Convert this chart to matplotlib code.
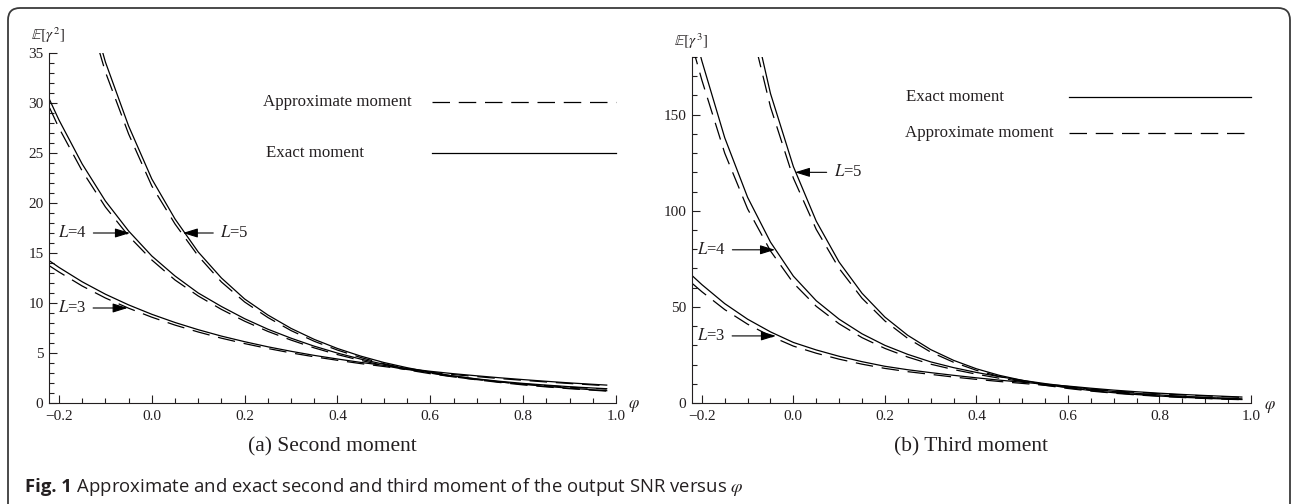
import matplotlib
matplotlib.use('Agg')
import matplotlib.pyplot as plt
from matplotlib.patches import FancyBboxPatch
from matplotlib.ticker import MultipleLocator, FuncFormatter

plt.rcParams['font.family'] = ['Liberation Serif', 'DejaVu Serif']
plt.rcParams['mathtext.fontset'] = 'stix'

# correlation coefficient grid
phi = [-0.22, -0.2, -0.15, -0.1, -0.05, 0.0, 0.05, 0.1, 0.15, 0.2, 0.25, 0.3, 0.35,
       0.4, 0.45, 0.5, 0.55, 0.6, 0.65, 0.7, 0.75, 0.8, 0.85, 0.9, 0.95, 0.98]

# (a) second moment
m2_exact_L5 = [58, 53, 42.3, 34.1, 27.7, 22.4, 18.4, 15.1, 12.5, 10.4, 8.8, 7.46, 6.36,
               5.45, 4.69, 4.05, 3.53, 3.08, 2.70, 2.39, 2.11, 1.87, 1.66, 1.48, 1.32, 1.23]
m2_approx_L5 = [56.3, 51.4, 41.0, 33.1, 26.9, 21.7, 17.9, 14.7, 12.1, 10.1, 8.55, 7.24, 6.17,
                5.29, 4.55, 3.93, 3.42, 2.99, 2.62, 2.32, 2.05, 1.81, 1.61, 1.43, 1.28, 1.19]
m2_exact_L4 = [30.3, 28.3, 23.9, 20.2, 17.2, 14.7, 12.7, 11.0, 9.65, 8.43, 7.38, 6.48, 5.68,
               4.99, 4.39, 3.87, 3.41, 3.02, 2.69, 2.41, 2.17, 1.96, 1.79, 1.63, 1.50, 1.43]
m2_approx_L4 = [29.5, 27.5, 23.2, 19.6, 16.7, 14.3, 12.3, 10.7, 9.36, 8.18, 7.16, 6.29, 5.51,
                4.84, 4.26, 3.75, 3.31, 2.93, 2.61, 2.34, 2.10, 1.90, 1.74, 1.58, 1.46, 1.39]
m2_exact_L3 = [14.2, 13.56, 12.12, 10.88, 9.81, 8.87, 8.05, 7.33, 6.69, 6.13, 5.62, 5.17, 4.76,
               4.40, 4.06, 3.76, 3.45, 3.17, 2.93, 2.72, 2.52, 2.34, 2.17, 2.01, 1.87, 1.79]
m2_approx_L3 = [13.7, 13.1, 11.7, 10.5, 9.48, 8.58, 7.79, 7.10, 6.48, 5.94, 5.45, 5.01, 4.62,
                4.27, 3.94, 3.65, 3.35, 3.08, 2.84, 2.64, 2.44, 2.27, 2.10, 1.95, 1.81, 1.73]

# (b) third moment
m3_exact_L5 = [430, 380, 284, 213, 161, 123, 94.6, 73.3, 57.1, 44.7, 35.2, 27.8, 22.2,
               17.8, 14.4, 11.8, 9.6, 7.9, 6.5, 5.35, 4.4, 3.62, 2.98, 2.45, 2.02, 1.8]
m3_approx_L5 = [411, 363, 271, 203, 154, 117, 90.3, 70.0, 54.5, 42.7, 33.6, 26.5, 21.2,
                17.0, 13.8, 11.3, 9.2, 7.55, 6.2, 5.1, 4.2, 3.46, 2.85, 2.34, 1.93, 1.72]
m3_exact_L4 = [196, 178, 138, 107, 83.7, 66.0, 53.2, 43.6, 36.0, 30.0, 25.3, 21.4, 18.4,
               15.9, 13.7, 11.8, 10.1, 8.6, 7.2, 6.0, 5.0, 4.2, 3.5, 2.92, 2.44, 2.18]
m3_approx_L4 = [185, 168, 130, 101, 79.1, 62.4, 50.3, 41.2, 34.0, 28.4, 23.9, 20.2, 17.4,
                15.0, 12.9, 11.2, 9.55, 8.13, 6.8, 5.67, 4.73, 3.97, 3.31, 2.76, 2.31, 2.06]
m3_exact_L3 = [66.0, 61.6, 51.7, 43.6, 37.0, 31.5, 27.6, 24.3, 21.5, 19.1, 17.3, 15.8, 14.4,
               13.1, 11.9, 10.8, 9.75, 8.8, 7.7, 6.7, 5.85, 5.1, 4.45, 3.9, 3.4, 3.1]
m3_approx_L3 = [62.0, 57.9, 48.6, 41.0, 34.8, 29.6, 25.9, 22.8, 20.2, 18.0, 16.3, 14.9, 13.5,
                12.3, 11.2, 10.2, 9.2, 8.3, 7.25, 6.3, 5.5, 4.8, 4.2, 3.67, 3.2, 2.92]

ink = '#231f20'
W, H = 1294, 504

fig = plt.figure(figsize=(W / 100, H / 100), dpi=100)
fig.patches.append(FancyBboxPatch((0.08, -0.5), 12.82, 5.46, boxstyle='round,pad=0,rounding_size=0.12',
                                  transform=fig.dpi_scale_trans, fill=False, ec='#3a3a3a', lw=1.3))

ax1 = fig.add_axes([49 / W, 101 / H, 567 / W, 350 / H])
ax2 = fig.add_axes([692 / W, 101 / H, 559 / W, 346 / H])

dash = (14, 7)


def fmt_x(v, pos):
    s = '%.1f' % round(v, 2)
    return s.replace('-', '\u2212')


def style(ax, ymax, ymajor, yminor):
    ax.set_xlim(-0.2215, 1.0)
    ax.set_ylim(0, ymax)
    for s in ['top', 'right']:
        ax.spines[s].set_visible(False)
    for s in ['left', 'bottom']:
        ax.spines[s].set_linewidth(0.8)
        ax.spines[s].set_color(ink)
    ax.xaxis.set_major_locator(MultipleLocator(0.2))
    ax.xaxis.set_minor_locator(MultipleLocator(0.05))
    ax.yaxis.set_major_locator(MultipleLocator(ymajor))
    ax.yaxis.set_minor_locator(MultipleLocator(yminor))
    ax.xaxis.set_major_formatter(FuncFormatter(fmt_x))
    ax.yaxis.set_major_formatter(FuncFormatter(lambda v, p: '%d' % v))
    ax.tick_params(which='both', direction='in', width=0.8, color=ink, labelcolor=ink, labelsize=11)
    ax.tick_params(which='major', length=6)
    ax.tick_params(which='minor', length=3.5)
    ax.tick_params(axis='x', pad=5)
    ax.tick_params(axis='y', pad=4)
    ax.set_facecolor('none')


for ax, curves in [(ax1, [(m2_exact_L5, m2_approx_L5), (m2_exact_L4, m2_approx_L4), (m2_exact_L3, m2_approx_L3)]),
                   (ax2, [(m3_exact_L5, m3_approx_L5), (m3_exact_L4, m3_approx_L4), (m3_exact_L3, m3_approx_L3)])]:
    for ex, ap in curves:
        ax.plot(phi, ex, color='k', lw=0.9)
        ax.plot(phi, ap, color='k', lw=0.9, dashes=dash)

style(ax1, 35, 5, 1)
style(ax2, 180, 50, 10)

# key text + lines
keys = [(ax1, 'Approximate moment', 0.3774, 0.860, dash),
        (ax1, 'Exact moment', 0.3827, 0.714, None),
        (ax2, 'Exact moment', 0.3828, 0.884, None),
        (ax2, 'Approximate moment', 0.3810, 0.780, dash)]
for ax, lab, tx, ty, ds in keys:
    ax.text(tx, ty, lab, transform=ax.transAxes, ha='left', va='center', fontsize=12.2, color=ink)
    ln, = ax.plot([0.675, 1.0], [ty, ty], transform=ax.transAxes, color='k', lw=0.9, clip_on=False)
    if ds:
        ln.set_dashes(ds)

# L labels with arrows
arr = dict(arrowstyle='-|>,head_length=0.65,head_width=0.2', color='k', lw=0.8,
           mutation_scale=14, shrinkA=3, shrinkB=0)
labels = [(ax1, '$L$=4', (-0.047, 17.0), (-0.172, 17.0)),
          (ax1, '$L$=5', (0.0667, 17.0), (0.178, 17.0)),
          (ax1, '$L$=3', (-0.052, 9.5), (-0.172, 9.5)),
          (ax2, '$L$=5', (0.0033, 120), (0.119, 120)),
          (ax2, '$L$=4', (-0.040, 79.7), (-0.180, 79.7)),
          (ax2, '$L$=3', (-0.038, 34.9), (-0.180, 34.9))]
for ax, t, xy, xyt in labels:
    ax.annotate(t, xy=xy, xytext=xyt, ha='center', va='center', fontsize=12, color=ink, arrowprops=arr)

# axis labels
fig.text(47.5 / W, 1 - 35.5 / H, r'$\mathbb{E}[\gamma^2]$', ha='center', va='center', fontsize=11, color=ink)
fig.text(691 / W, 1 - 41 / H, r'$\mathbb{E}[\gamma^3]$', ha='center', va='center', fontsize=11, color=ink)
fig.text(634 / W, 1 - 406 / H, r'$\varphi$', ha='center', va='center', fontsize=12, color=ink)
fig.text(1270 / W, 1 - 407 / H, r'$\varphi$', ha='center', va='center', fontsize=12, color=ink)

# sub captions
fig.text(332 / W, 1 - 447 / H, '(a) Second moment', ha='center', va='center', fontsize=15.5, color=ink)
fig.text(971 / W, 1 - 447 / H, '(b) Third moment', ha='center', va='center', fontsize=15.5, color=ink)

# figure caption
t1 = fig.text(25 / W, 1 - 487 / H, 'Fig. 1', ha='left', va='center', fontsize=13.3,
              fontweight='bold', family='Open Sans', color=ink)
fig.canvas.draw()
bb = t1.get_window_extent(fig.canvas.get_renderer())
fig.text(bb.x1 / W, 1 - 487 / H,
         r' Approximate and exact second and third moment of the output SNR versus $\varphi$',
         ha='left', va='center', fontsize=13.3, family='Open Sans', color=ink)

fig.savefig('out.png', dpi=100)
